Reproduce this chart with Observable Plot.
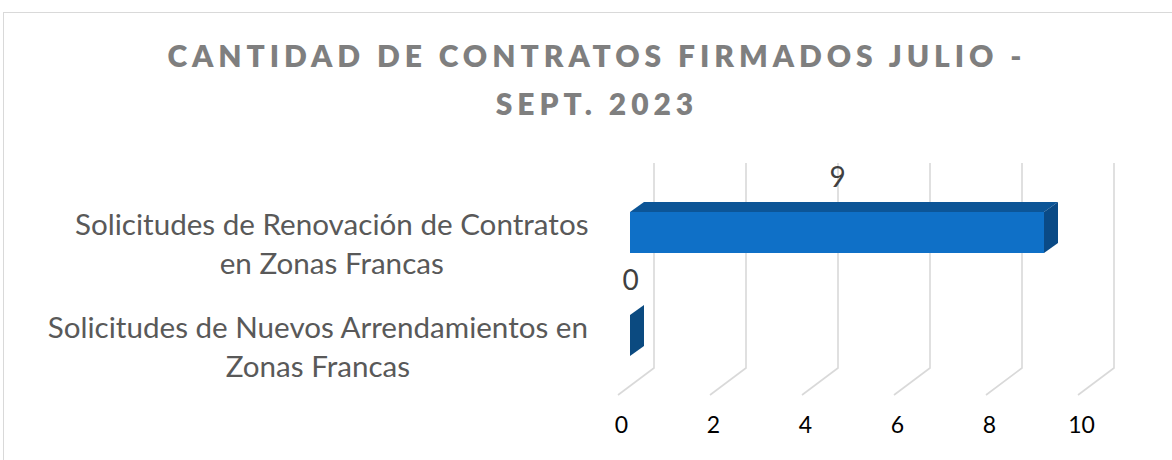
<!DOCTYPE html>
<html><head><meta charset="utf-8">
<script src="https://cdn.jsdelivr.net/npm/d3@7"></script>
<script src="https://cdn.jsdelivr.net/npm/@observablehq/plot@0.6"></script>
<style>
html,body{margin:0;padding:0;background:#fff;overflow:hidden}
#wrap{position:relative;width:1172px;height:460px;overflow:hidden}
#border{position:absolute;left:3px;top:12px;width:1200px;height:500px;border:1.5px solid #d9d9d9;box-sizing:border-box}
#title{position:absolute;left:0;top:31px;width:1189px;text-align:center;font-family:Lato,sans-serif;font-weight:800;font-size:30px;color:#7f7f7f;line-height:48px;white-space:nowrap}
#chart{position:absolute;left:0;top:0}
</style></head><body>
<div id="wrap"><div id="border"></div><div id="title"></div><div id="chart"></div></div>
<script>
// ---- data ----
const titleLines = ["CANTIDAD DE CONTRATOS FIRMADOS JULIO -", "SEPT. 2023"];
const categories = [
  "Solicitudes de Renovación de Contratos en Zonas Francas",
  "Solicitudes de Nuevos Arrendamientos en Zonas Francas"
];
const categoryLines = [
  ["Solicitudes de Renovación de Contratos", "en Zonas Francas"],
  ["Solicitudes de Nuevos Arrendamientos en", "Zonas Francas"]
];
const values = [9, 0];
const xTicks = [0, 2, 4, 6, 8, 10];

// ---- helpers ----
const canvas = document.createElement("canvas");
const ctx = canvas.getContext("2d");
function textWidth(s, font) { ctx.font = font; return ctx.measureText(s).width; }

// title with spacing
const titleEl = document.getElementById("title");
const w0 = textWidth(titleLines[0], "800 30px Lato");
const ls = Math.max(0, (855 - w0) / (titleLines[0].length - 1));
titleEl.style.letterSpacing = ls + "px";
titleEl.style.paddingLeft = ls + "px";
titleEl.style.width = (1189 - ls) + "px";
titleEl.innerHTML = titleLines.join("<br>");

const data = categories.map((c, i) => ({cat: c, value: values[i], lines: categoryLines[i]}));

const FRONT = {dx: 10};
const DEPTH = {dx: 14, dy: -10};

const grid3d = (index, scales, vals, dimensions) => {
  const x = scales.x;
  const yFront = dimensions.height - dimensions.marginBottom;
  const yBack = yFront - 27;
  const yTop = dimensions.marginTop;
  const g = d3.create("svg:g").attr("fill", "none").attr("stroke", "#d9d9d9").attr("stroke-width", 1.6);
  for (const t of xTicks) {
    const xf = x(t) - 2, xb = x(t) + 34;
    g.append("path").attr("d", `M${xf},${yFront}L${xb},${yBack}L${xb},${yTop}`);
  }
  return g.node();
};

const faces = (index, scales, vals, dimensions) => {
  const x = scales.x, y = scales.y;
  let bw = 41.2;
  if (typeof y.bandwidth === "function") bw = y.bandwidth();
  else if (scales.scales && scales.scales.y && scales.scales.y.bandwidth) bw = scales.scales.y.bandwidth;
  const g = d3.create("svg:g");
  for (const d of data) {
    const xa = x(0) + FRONT.dx, xb = x(d.value) + FRONT.dx;
    const yt = y(d.cat), yb = yt + bw;
    const pts = a => a.map(p => p.join(",")).join(" ");
    if (xb > xa) {
      g.append("polygon").attr("fill", "#0c5597").attr("points",
        pts([[xa, yt], [xb, yt], [xb + DEPTH.dx, yt + DEPTH.dy], [xa + DEPTH.dx, yt + DEPTH.dy]]));
    }
    g.append("polygon").attr("fill", d.value > 0 ? "#0a4a86" : "#0b4a80").attr("points",
      pts([[xb, yt], [xb + DEPTH.dx, yt + DEPTH.dy], [xb + DEPTH.dx, yb + DEPTH.dy], [xb, yb]]));
  }
  return g.node();
};

const labelSize = 29.6;
const labelFont = labelSize + "px Lato";
const labelMarks = data.map(d => {
  const maxW = Math.max(...d.lines.map(s => textWidth(s, labelFont)));
  const cx = 588 - maxW / 2;
  return Plot.text([d], {
    y: "cat", frameAnchor: "left", dx: cx, dy: 9,
    text: r => r.lines.join("\n"), textAnchor: "middle", lineHeight: 39 / labelSize,
    fontSize: labelSize, fill: "#595959"
  });
});

const chart = Plot.plot({
  width: 1172, height: 460,
  marginTop: 163, marginBottom: 65, marginLeft: 0, marginRight: 0,
  style: {fontFamily: "Lato, sans-serif", background: "transparent"},
  x: {domain: [0, 10], range: [620, 1080], label: null, axis: null},
  y: {domain: categories, range: [150, 418], padding: 0.6, axis: null, label: null},
  marks: [
    grid3d,
    Plot.text(xTicks, {x: d => d, frameAnchor: "bottom", dx: 1, dy: 37, text: d => String(d), fontSize: 23, fill: "#000"}),
    Plot.barX(data, {x1: 0, x2: "value", y: "cat", dx: FRONT.dx, fill: "#0f70c7"}),
    faces,
    Plot.ruleX(data, {x: d => d.value / 2, y: "cat", dx: FRONT.dx, dy: -13, insetBottom: 28, stroke: "#a6a6a6", strokeWidth: 1.5}),
    Plot.text(data, {x: d => d.value / 2, y: "cat", dx: FRONT.dx, dy: -54.5, text: d => String(d.value), fontSize: 28, fill: "#404040"}),
    ...labelMarks
  ]
});
document.getElementById("chart").appendChild(chart);
</script>
</body></html>
